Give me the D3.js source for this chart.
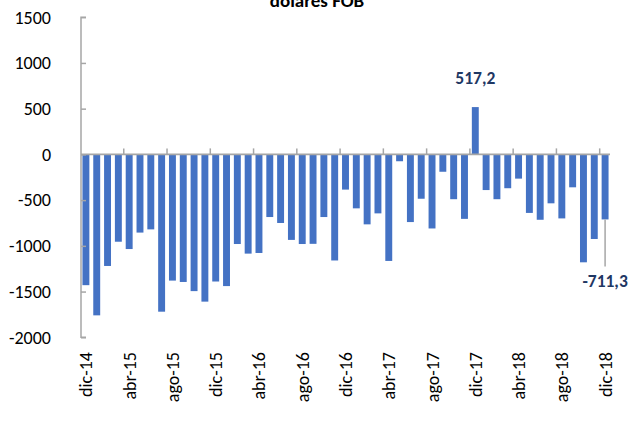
<!DOCTYPE html>
<html><head><meta charset="utf-8">
<script src="https://cdn.jsdelivr.net/npm/d3@7/dist/d3.min.js"></script>
<style>
html,body{margin:0;padding:0;background:#fff;}
svg{display:block;font-family:Carlito,Lato,"Open Sans",sans-serif;}
</style></head>
<body>
<svg id="c" width="631" height="421"></svg>
<script>
const months = ["dic-14","ene-15","feb-15","mar-15","abr-15","may-15","jun-15","jul-15","ago-15","sep-15","oct-15","nov-15",
"dic-15","ene-16","feb-16","mar-16","abr-16","may-16","jun-16","jul-16","ago-16","sep-16","oct-16","nov-16",
"dic-16","ene-17","feb-17","mar-17","abr-17","may-17","jun-17","jul-17","ago-17","sep-17","oct-17","nov-17",
"dic-17","ene-18","feb-18","mar-18","abr-18","may-18","jun-18","jul-18","ago-18","sep-18","oct-18","nov-18","dic-18"];
const values = [-1430,-1760,-1220,-955,-1035,-855,-820,-1720,-1380,-1395,-1495,-1610,
-1390,-1440,-980,-1085,-1078,-685,-750,-935,-980,-978,-685,-1160,
-385,-590,-765,-645,-1165,-75,-740,-485,-810,-190,-490,-705,
517.2,-390,-490,-370,-265,-640,-715,-535,-700,-360,-1180,-925,-711.3];
const yTicks = [1500,1000,500,0,-500,-1000,-1500,-2000];
const xTickLabels = ["dic-14","abr-15","ago-15","dic-15","abr-16","ago-16","dic-16","abr-17","ago-17","dic-17","abr-18","ago-18","dic-18"];
const labeled = [{m:"dic-17", text:"517,2"},{m:"dic-18", text:"-711,3"}];
const title = "dólares FOB";

const svg = d3.select("#c");
const x = d3.scaleBand().domain(months).range([80.5, 610.5]).paddingInner(0.36).paddingOuter(0.18);
const y = d3.scaleLinear().domain([-2000,1500]).range([337.3,17.2]);
const axisColor = "#a6a6a6";

// bars
svg.append("g").selectAll("rect").data(months).join("rect")
  .attr("x", d => x(d))
  .attr("width", x.bandwidth())
  .attr("y", (d,i) => y(Math.max(0, values[i])))
  .attr("height", (d,i) => Math.abs(y(values[i]) - y(0)))
  .attr("fill", "#4472c4");

// y axis
const ya = svg.append("g").attr("transform","translate(81,0)")
  .call(d3.axisRight(y).tickValues(yTicks).tickSize(5).tickFormat(""));
ya.select(".domain").attr("stroke", axisColor).attr("stroke-width",1.5).attr("d","M5,"+y(1500)+"H0V"+y(-2000)+"H5");
ya.selectAll(".tick line").attr("stroke", axisColor).attr("stroke-width",1.5);
svg.append("g").selectAll("text").data(yTicks).join("text")
  .attr("x", 51).attr("y", d => y(d)).attr("dy","0.35em")
  .attr("text-anchor","end").attr("font-size",18).attr("fill","#000")
  .text(d => d);

// x axis at zero
const step = x.step();
const xg = svg.append("g");
xg.append("line").attr("x1",81).attr("x2",610).attr("y1",y(0)).attr("y2",y(0))
  .attr("stroke",axisColor).attr("stroke-width",1.8);
xg.selectAll(".tk").data(months.filter((m,i)=> i%4===3)).join("line")
  .attr("x1", d => x(d)+x.bandwidth()+ (step-x.bandwidth())/2)
  .attr("x2", d => x(d)+x.bandwidth()+ (step-x.bandwidth())/2)
  .attr("y1", y(0)).attr("y2", y(0)-6)
  .attr("stroke",axisColor).attr("stroke-width",1.5);

// x labels
svg.append("g").selectAll("text").data(xTickLabels).join("text")
  .attr("transform", d => `translate(${x(d)+x.bandwidth()/2+6.5},352) rotate(-90)`)
  .attr("text-anchor","end").attr("font-size",18).attr("fill","#000")
  .text(d => d);

// data labels
const lab = "#1f3864";
const l1 = labeled[0], i1 = months.indexOf(l1.m);
svg.append("text").attr("x", x(l1.m)+x.bandwidth()/2).attr("y", y(values[i1]) - 23)
  .attr("text-anchor","middle").attr("font-size",17.5).attr("font-weight","bold").attr("fill",lab).text(l1.text);
const l2 = labeled[1], i2 = months.indexOf(l2.m);
const cx2 = x(l2.m)+x.bandwidth()/2;
svg.append("line").attr("x1",cx2).attr("x2",cx2).attr("y1",y(values[i2])).attr("y2",y(values[i2])+47)
  .attr("stroke",axisColor).attr("stroke-width",1.5);
svg.append("text").attr("x", cx2).attr("y", y(values[i2]) + 68)
  .attr("text-anchor","middle").attr("font-size",17.5).attr("font-weight","bold").attr("fill",lab).text(l2.text);

// title (cropped at top edge, as in the reference)
svg.append("text").attr("x",317).attr("y",6.5).attr("text-anchor","middle")
  .attr("font-size",19).attr("font-weight","bold").attr("fill","#000").text(title);
</script>
</body></html>
